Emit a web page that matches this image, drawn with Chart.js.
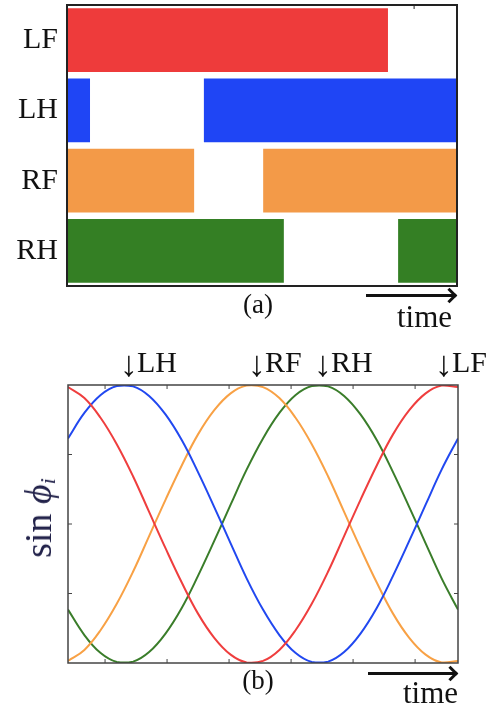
<!DOCTYPE html>
<html>
<head>
<meta charset="utf-8">
<title>Gait diagram and oscillator phases</title>
<script src="https://cdn.jsdelivr.net/npm/chart.js@4.4.0/dist/chart.umd.min.js"></script>
<style>
  body { margin: 0; background: #fff; }
  #wrap { position: relative; width: 493px; height: 707px; overflow: hidden;
          font-family: "Liberation Serif", "Times New Roman", serif; color: #111; }
  canvas { position: absolute; left: 0; }
  .txt { position: absolute; line-height: 1; white-space: nowrap; }
  .txt .dn { font-size: 36px; vertical-align: -4px; margin-right: -1px; }
  .arrow { position: absolute; height: 3px; background: #111; }
  .arrow:after { content: ""; position: absolute; right: 0; top: -4px; width: 8px; height: 8px;
                 border-top: 3px solid #111; border-right: 3px solid #111; transform: rotate(45deg); }
  #ylab { font-size: 38px; color: #22224a; transform: translate(-50%, -50%) rotate(-90deg); }
  #ylab sub { font-size: 22px; font-style: italic; vertical-align: -4px; }
</style>
</head>
<body>
<div id="wrap">
  <canvas id="gait" width="493" height="302" style="top:0"></canvas>
  <canvas id="phase" width="493" height="350" style="top:330px"></canvas>

  <div class="txt" style="left:258px; top:291px; font-size:27px; transform:translateX(-50%)">(a)</div>
  <div class="arrow" style="left:366px; top:294px; width:89px"></div>
  <div class="txt" style="left:397px; top:301px; font-size:31px">time</div>

  <div class="txt" style="left:120px; top:346px; font-size:30px"><span class="dn">↓</span>LH</div>
  <div class="txt" style="left:248px; top:346px; font-size:30px"><span class="dn">↓</span>RF</div>
  <div class="txt" style="left:314px; top:346px; font-size:30px"><span class="dn">↓</span>RH</div>
  <div class="txt" style="left:435px; top:346px; font-size:30px"><span class="dn">↓</span>LF</div>

  <div class="txt" id="ylab" style="left:39px; top:518px">sin <i>ϕ</i><sub>i</sub></div>

  <div class="txt" style="left:258px; top:667px; font-size:27px; transform:translateX(-50%)">(b)</div>
  <div class="arrow" style="left:368px; top:672px; width:88px"></div>
  <div class="txt" style="left:403px; top:677px; font-size:31px">time</div>
</div>

<script>
  // ---- (a) gait diagram: stance phases as fraction of the shown time window
  const legs = ["LF", "LH", "RF", "RH"];
  const legColors = ["#ee3b3b", "#1f45f5", "#f39a48", "#347f24"];
  const firstStance = [[0, 0.823], [0, 0.059], [0, 0.326], [0, 0.556]];
  const secondStance = [null, [0.351, 1], [0.503, 1], [0.849, 1]];
  const gaitTicks = { x: [0.89], y: [] };

  // ---- (b) sin(phi_i) sampled over one cycle
  const timeSteps = [0, 0.042, 0.083, 0.125, 0.167, 0.208, 0.25, 0.292, 0.333, 0.375, 0.417, 0.458,
                     0.5, 0.542, 0.583, 0.625, 0.667, 0.708, 0.75, 0.792, 0.833, 0.875, 0.917, 0.958, 1];
  const sinLF = [0.985, 0.906, 0.766, 0.574, 0.342, 0.087, -0.174, -0.423, -0.643, -0.819, -0.94, -0.996,
                 -0.985, -0.906, -0.766, -0.574, -0.342, -0.087, 0.174, 0.423, 0.643, 0.819, 0.94, 0.996, 0.985];
  const sinLH = [0.616, 0.799, 0.927, 0.993, 0.99, 0.921, 0.788, 0.602, 0.375, 0.122, -0.139, -0.391,
                 -0.616, -0.799, -0.927, -0.993, -0.99, -0.921, -0.788, -0.602, -0.375, -0.122, 0.139, 0.391, 0.616];
  const sinRF = [-0.985, -0.906, -0.766, -0.574, -0.342, -0.087, 0.174, 0.423, 0.643, 0.819, 0.94, 0.996,
                 0.985, 0.906, 0.766, 0.574, 0.342, 0.087, -0.174, -0.423, -0.643, -0.819, -0.94, -0.996, -0.985];
  const sinRH = [-0.616, -0.799, -0.927, -0.993, -0.99, -0.921, -0.788, -0.602, -0.375, -0.122, 0.139, 0.391,
                 0.616, 0.799, 0.927, 0.993, 0.99, 0.921, 0.788, 0.602, 0.375, 0.122, -0.139, -0.391, -0.616];
  const lineColors = ["#ef3e3e", "#2148f0", "#f8a145", "#3a7d2a"];
  const xTicks = [0.095, 0.254, 0.413, 0.572, 0.731, 0.89];
  const yTicks = [-0.5, 0, 0.5];

  // box around the plot area + small inward ticks
  const frame = {
    id: "frame",
    afterDatasetsDraw(chart, args, opts) {
      const a = chart.chartArea, ctx = chart.ctx;
      ctx.save();
      ctx.strokeStyle = opts.color;
      ctx.lineWidth = opts.width;
      ctx.strokeRect(a.left, a.top, a.right - a.left, a.bottom - a.top);
      if (opts.ticks) {
        ctx.lineWidth = 1;
        opts.ticks.x.forEach(v => {
          const px = chart.scales.x.getPixelForValue(v);
          ctx.beginPath();
          ctx.moveTo(px, a.top); ctx.lineTo(px, a.top + 4);
          if (opts.bothSides) { ctx.moveTo(px, a.bottom); ctx.lineTo(px, a.bottom - 4); }
          ctx.stroke();
        });
        opts.ticks.y.forEach(v => {
          const py = chart.scales.y.getPixelForValue(v);
          ctx.beginPath();
          ctx.moveTo(a.left, py); ctx.lineTo(a.left + 4, py);
          ctx.moveTo(a.right, py); ctx.lineTo(a.right - 4, py);
          ctx.stroke();
        });
      }
      ctx.restore();
    }
  };

  new Chart(document.getElementById("gait"), {
    type: "bar",
    data: {
      labels: legs,
      datasets: [
        { data: firstStance, backgroundColor: legColors },
        { data: secondStance, backgroundColor: legColors }
      ]
    },
    options: {
      indexAxis: "y",
      responsive: false,
      animation: false,
      grouped: false,
      barPercentage: 0.91,
      categoryPercentage: 1,
      layout: { padding: { top: 5, right: 36, bottom: 16, left: 0 } },
      plugins: { legend: { display: false }, tooltip: { enabled: false },
                 frame: { color: "#222", width: 2, ticks: gaitTicks } },
      scales: {
        x: { display: false, min: 0, max: 1 },
        y: {
          grid: { display: false, drawTicks: false },
          border: { display: false },
          ticks: { color: "#111", padding: 9, font: { family: "Liberation Serif", size: 30 } },
          afterFit(scale) {
            scale.width = 67;
            scale.paddingTop = 0;
            scale.paddingBottom = 0;
          }
        }
      }
    },
    plugins: [frame]
  });

  const series = [sinLF, sinLH, sinRF, sinRH];
  new Chart(document.getElementById("phase"), {
    type: "line",
    data: {
      datasets: series.map((vals, i) => ({
        label: legs[i],
        data: timeSteps.map((t, k) => ({ x: t, y: vals[k] })),
        borderColor: lineColors[i],
        borderWidth: 2,
        pointRadius: 0,
        tension: 0.4,
        fill: false
      }))
    },
    options: {
      responsive: false,
      animation: false,
      layout: { padding: { top: 55, right: 35, bottom: 17, left: 68 } },
      plugins: { legend: { display: false }, tooltip: { enabled: false },
                 frame: { color: "#444", width: 1.5, bothSides: true, ticks: { x: xTicks, y: yTicks } } },
      scales: {
        x: { type: "linear", display: false, min: 0, max: 1 },
        y: { display: false, min: -1, max: 1 }
      }
    },
    plugins: [frame]
  });
</script>
</body>
</html>
